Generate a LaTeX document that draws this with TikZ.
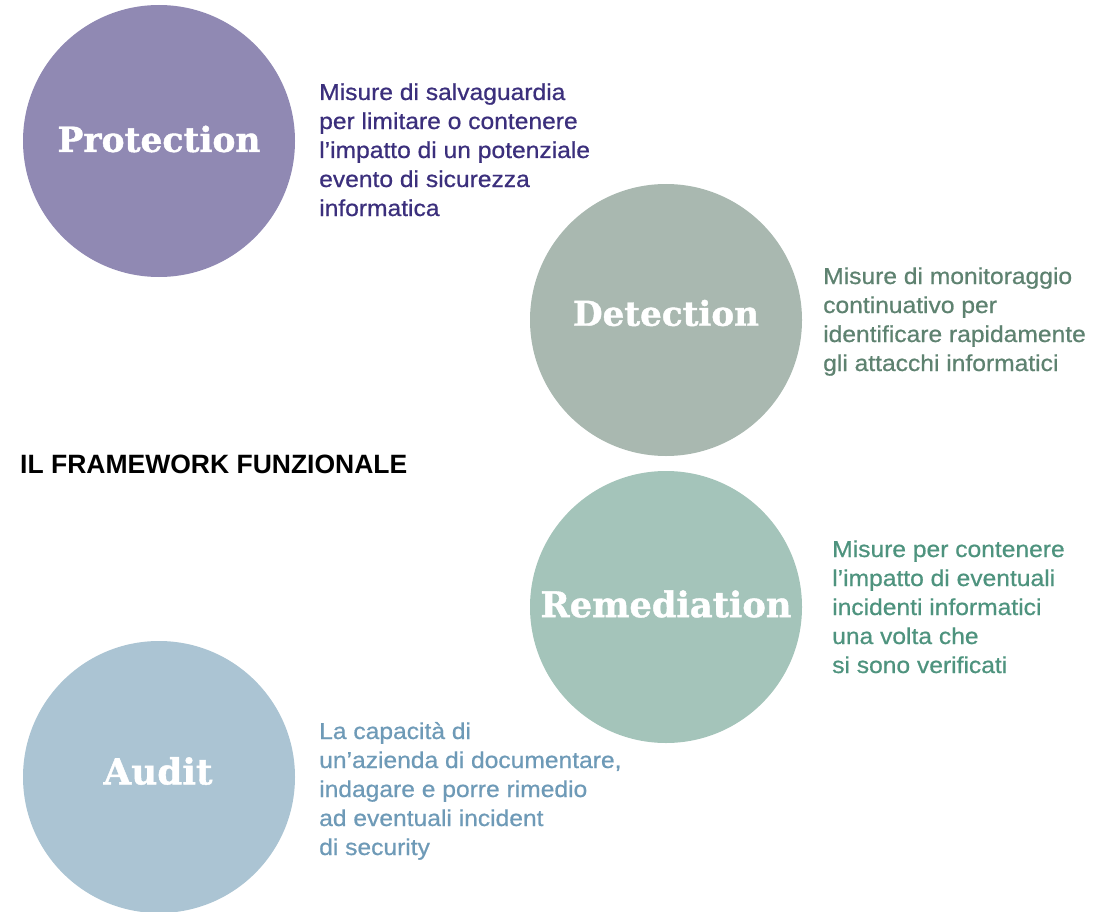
\documentclass[tikz,border=0pt]{standalone}
\usepackage{fontspec}
\setmainfont{Liberation Sans}
\newfontfamily\labfont[FakeBold=1.2]{DejaVu Serif}
\newfontfamily\descfont[FakeStretch=1.07,FakeBold=0.7]{Liberation Sans}
\definecolor{protC}{HTML}{9089B3}
\definecolor{protT}{HTML}{3B2F7C}
\definecolor{detC}{HTML}{A9B8B0}
\definecolor{detT}{HTML}{5E8270}
\definecolor{remC}{HTML}{A4C4BA}
\definecolor{remT}{HTML}{4E937E}
\definecolor{audC}{HTML}{ABC4D3}
\definecolor{audT}{HTML}{6E9AB7}
\tikzset{
  bubble/.style={circle, minimum size=272pt, inner sep=0pt, draw=none},
  bubblelabel/.style={text=white, inner sep=0pt},
  desc/.style={anchor=base west, align=left, inner sep=0pt,
    font=\descfont\fontsize{23}{29}\selectfont},
  title/.style={anchor=base west, inner sep=0pt,
    font=\bfseries\fontsize{26.5}{30}\selectfont}
}
\begin{document}
\begin{tikzpicture}[x=1pt,y=-1pt]
\useasboundingbox (0,0) rectangle (1118,912);
% circles
\node[bubble, fill=protC] (prot) at (159,141) {};
\node[bubble, fill=detC] (det) at (666,320) {};
\node[bubble, fill=remC] (rem) at (666,607) {};
\node[bubble, fill=audC] (aud) at (159,777) {};
% circle labels
\node[bubblelabel] (protL) at (159,139) {\resizebox{203pt}{!}{\labfont\bfseries Protection}};
\node[bubblelabel] (detL) at (666,313) {\resizebox{186pt}{!}{\labfont\bfseries Detection}};
\node[bubblelabel] (remL) at (666,604) {\resizebox{251pt}{!}{\labfont\bfseries Remediation}};
\node[bubblelabel] (audL) at (158,771) {\resizebox{109pt}{!}{\labfont\bfseries Audit}};
% descriptions (anchored at the baseline of the last line)
\node[desc, text=protT] (protD) at (319,216) {Misure di salvaguardia\\per limitare o contenere\\l’impatto di un potenziale\\evento di sicurezza\\informatica};
\node[desc, text=detT] (detD) at (823,371) {Misure di monitoraggio\\continuativo per\\identificare rapidamente\\gli attacchi informatici};
\node[desc, text=remT] (remD) at (832,673) {Misure per contenere\\l’impatto di eventuali\\incidenti informatici\\una volta che\\si sono verificati};
\node[desc, text=audT] (audD) at (319,855) {La capacità di\\un’azienda di documentare,\\indagare e porre rimedio\\ad eventuali incident\\di security};
% title
\node[title] (ttl) at (20,473) {IL FRAMEWORK FUNZIONALE};
\end{tikzpicture}
\end{document}
